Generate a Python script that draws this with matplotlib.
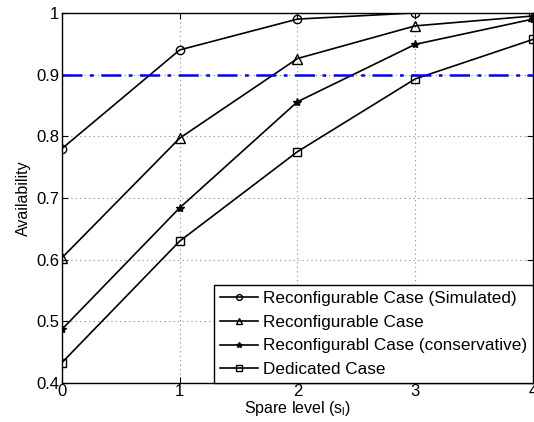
import matplotlib
matplotlib.use("Agg")
import matplotlib.pyplot as plt

plt.rcParams['font.family'] = ['Liberation Sans', 'DejaVu Sans']

spare = [0, 1, 2, 3, 4]
sim = [0.780, 0.940, 0.990, 1.000, 1.000]
reconf = [0.603, 0.797, 0.926, 0.979, 0.995]
conserv = [0.487, 0.684, 0.856, 0.949, 0.990]
dedicated = [0.433, 0.630, 0.775, 0.893, 0.957]
threshold = 0.9

labels = ["Reconfigurable Case (Simulated)", "Reconfigurable Case",
          "Reconfigurabl Case (conservative)", "Dedicated Case"]

fig = plt.figure(figsize=(5.34, 4.22), dpi=100)
ax = fig.add_axes([0.116, 0.0924, 0.882, 0.877])

ax.plot(spare, sim, 'k-', marker='o', mfc='none', ms=6, lw=1.2, label=labels[0])
ax.plot(spare, reconf, 'k-', marker='^', mfc='none', ms=7, lw=1.2, label=labels[1])
ax.plot(spare, conserv, 'k-', marker='*', ms=6, lw=1.2, label=labels[2])
ax.plot(spare, dedicated, 'k-', marker='s', mfc='none', ms=6, lw=1.2, label=labels[3])
ax.axhline(threshold, color='blue', lw=1.8, dashes=(8, 3, 1.5, 3))

ax.set_xlim(0, 4)
ax.set_ylim(0.4, 1.0)
ax.set_xticks([0, 1, 2, 3, 4])
ax.set_yticks([0.4, 0.5, 0.6, 0.7, 0.8, 0.9, 1.0])
ax.set_yticklabels(['0.4', '0.5', '0.6', '0.7', '0.8', '0.9', '1'])
ax.tick_params(direction='in', labelsize=12, length=4, pad=2,
               top=True, right=True)
ax.tick_params(axis='x', pad=1)
ax.grid(True, color='#888888', linestyle=(0, (1, 3)), lw=0.8)
for s in ax.spines.values():
    s.set_linewidth(1.0)

ax.set_xlabel('Spare level (s$_\\mathregular{l}$)', fontsize=11.5, labelpad=0)
ax.set_ylabel('Availability', fontsize=11.5, labelpad=4)

leg = ax.legend(loc='lower right', fontsize=12.3, frameon=True, fancybox=False,
                edgecolor='black', framealpha=1, borderaxespad=0,
                handlelength=2.2, handletextpad=0.3, labelspacing=0.5,
                borderpad=0.35, markerscale=0.7)
leg.get_frame().set_linewidth(1.0)

fig.savefig('out.png', dpi=100)
